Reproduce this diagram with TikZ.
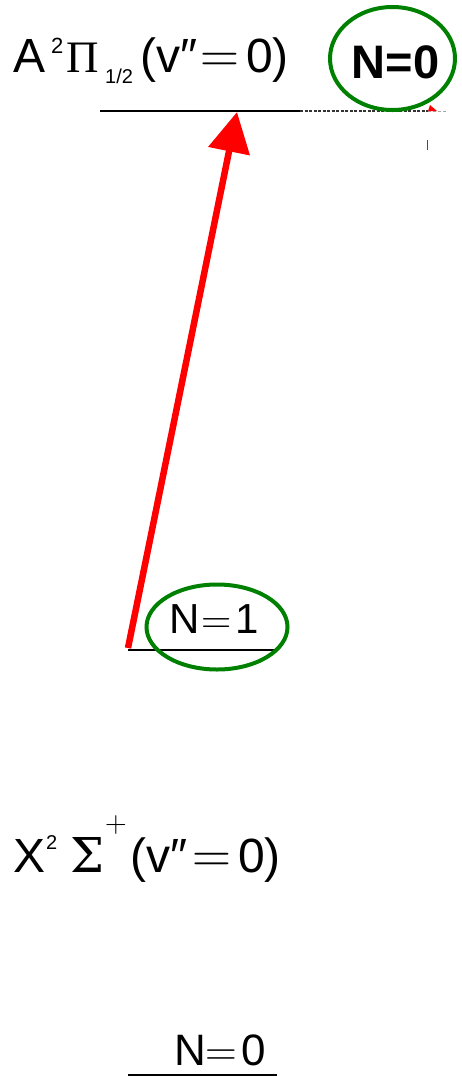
\documentclass[tikz,border=0pt]{standalone}
\usepackage{fontspec}
\setmainfont{Liberation Sans}
\newfontfamily\lmr{Latin Modern Roman}
\newfontfamily\tms{Liberation Serif}
\newfontfamily\dvs{DejaVu Serif}
\usetikzlibrary{arrows.meta,shapes.geometric}
\newcommand{\fsz}[1]{\fontsize{#1}{#1}\selectfont}
\begin{document}
\begin{tikzpicture}[x=1pt,y=1pt,
  level/.style={line width=2.6pt},
  ring/.style={draw=green!50!black, line width=4pt, ellipse, inner sep=0pt},
  lbl/.style={inner sep=0pt, anchor=base west}]
\useasboundingbox (0,0) rectangle (461,-1077);
% ---- upper state label A^2 Pi_1/2 (v''=0), baseline y=72
\node[lbl, font=\fsz{48}] (aA) at (13,-72) {A};
\node[lbl, font=\fsz{22}] (aSup) at (51,-53) {2};
\node[lbl, font=\tms\fsz{45}] (aPi) at (66,-72) {Π};
\node[lbl, font=\fsz{20}] (aSub) at (105,-83) {1/2};
\node[lbl, font=\fsz{48}] (aV) at (140,-72) {(v″};
\node[lbl, font=\lmr\fsz{54}] (aEq) at (200,-72) {=};
\node[lbl, font=\fsz{48}] (aZero) at (246,-72) {0)};
% ---- lower state label X^2 Sigma^+ (v''=0), baseline y=872
\node[lbl, font=\fsz{48}] (xX) at (13,-872) {X};
\node[lbl, font=\fsz{20}] (xSup) at (46,-849) {2};
\node[lbl, font=\dvs\fsz{48}] (xSig) at (70,-872) {Σ};
\node[lbl, font=\lmr\fsz{30}] (xPlus) at (105,-832) {+};
\node[lbl, font=\fsz{48}] (xV) at (130,-872) {(v″};
\node[lbl, font=\lmr\fsz{54}] (xEq) at (192,-872) {=};
\node[lbl, font=\fsz{48}] (xZero) at (238,-872) {0)};
% ---- levels
\coordinate (a1) at (100,-111);
\coordinate (a2) at (300,-111);
\coordinate (a3) at (428,-111);
\coordinate (a4) at (447,-111);
\draw[level] (a1) -- (a2);
\draw[line width=2pt, black!80, dash pattern=on 3pt off 1.5pt] (a2) -- (a3);
\draw[line width=1pt, black!35, dash pattern=on 3pt off 2pt] (a3) -- (a4);
\coordinate (m1) at (128,-650);
\coordinate (m2) at (277,-650);
\draw[level] (m1) -- (m2);
\coordinate (b1) at (128,-1075);
\coordinate (b2) at (277,-1075);
\draw[level] (b1) -- (b2);
% ---- top N=0 (bold, circled), baseline y=78
\node[lbl, anchor=base, font=\bfseries\fsz{47}] (tN0) at (395.5,-78) {N=0};
\node[ring, minimum width=125pt, minimum height=103pt] (e0) at (392.5,-58.5) {};
% ---- N=1, baseline y=633
\node[lbl, font=\fsz{42}] (mN) at (169,-633) {N};
\node[lbl, font=\lmr\fsz{42}] (mEq) at (201,-633) {=};
\node[lbl, font=\fsz{42}] (mOne) at (235,-633) {1};
\node[ring, minimum width=141pt, minimum height=85pt] (e1) at (217,-627) {};
% ---- bottom N=0, baseline y=1065
\node[lbl, font=\fsz{44}] (bN) at (174,-1065) {N};
\node[lbl, font=\lmr\fsz{44}] (bEq) at (205.5,-1065) {=};
\node[lbl, font=\fsz{44}] (bZ) at (241,-1065) {0};
% ---- transition arrow
\coordinate (up) at (237,-112);
\coordinate (lo) at (128,-648);
\draw[red, line width=6.5pt, -{Triangle[length=40pt,width=41pt]}] (lo) -- (up);
% ---- small red fragments
\coordinate (r1) at (428,-111);
\coordinate (r2) at (427,-140);
\coordinate (r3) at (427,-150);
\fill[red] (r1) -- ++(9,0) -- ++(-7,6) -- cycle;
\draw[red, line width=0.8pt] (r2) -- (r3);
\end{tikzpicture}
\end{document}
